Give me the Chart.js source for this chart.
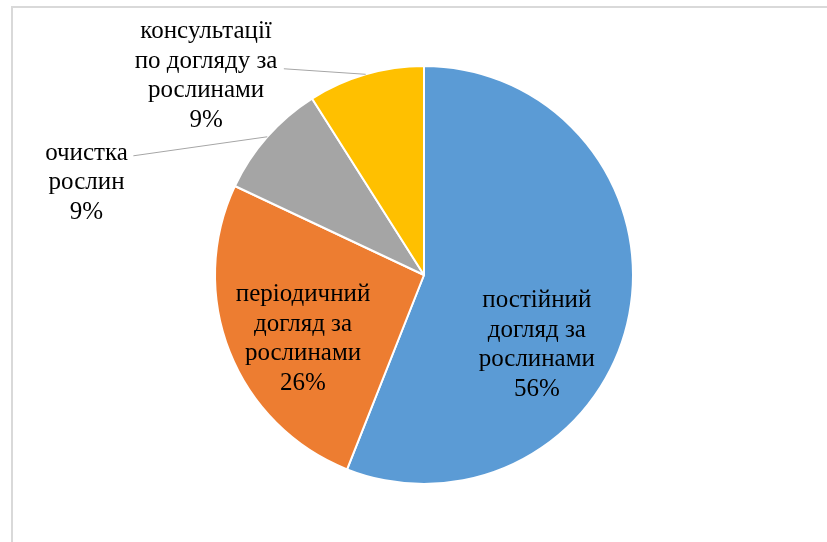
<!DOCTYPE html>
<html>
<head>
<meta charset="utf-8">
<script src="https://cdn.jsdelivr.net/npm/chart.js@4"></script>
<style>
  html, body { margin: 0; padding: 0; background: #fff; }
  #wrap { width: 827px; height: 542px; }
</style>
</head>
<body>
<div id="wrap"><canvas id="pie" width="827" height="542"></canvas></div>
<script>
// Categories and values
const categories = [
  ["постійний", "догляд за", "рослинами"],
  ["періодичний", "догляд за", "рослинами"],
  ["очистка", "рослин"],
  ["консультації", "по догляду за", "рослинами"]
];
const values = [56, 26, 9, 9];
const colors = ["#5b9bd5", "#ed7d31", "#a5a5a5", "#ffc000"];

// label placement in polar terms (angle clockwise from top, radius as fraction of pie radius)
const labelPlace = [
  { angle: 121.8, r: 0.635 },
  { angle: 242.1, r: 0.655 },
  { angle: 285.3, r: 1.674, lead: { angle: 292.3, r: 1.503 } },
  { angle: 312.4, r: 1.412, lead: { angle: 325.8, r: 1.193 } }
];

const polar = (arc, deg, f) => {
  const a = deg * Math.PI / 180;
  return { x: arc.x + Math.sin(a) * arc.outerRadius * f, y: arc.y - Math.cos(a) * arc.outerRadius * f };
};

const labelsPlugin = {
  id: "pieLabels",
  beforeDraw(chart) {
    const c = chart.ctx;
    c.save();
    c.strokeStyle = "#d9d9d9";
    c.lineWidth = 2;
    c.beginPath();
    c.moveTo(12, 560);
    c.lineTo(12, 7);
    c.lineTo(840, 7);
    c.stroke();
    c.restore();
  },
  afterDraw(chart) {
    const c = chart.ctx;
    const arcs = chart.getDatasetMeta(0).data;
    const total = values.reduce((s, v) => s + v, 0);
    c.save();
    c.font = "25px 'Liberation Serif', 'Times New Roman', serif";
    c.fillStyle = "#000";
    c.textAlign = "center";
    c.textBaseline = "middle";
    const lh = 29.5;
    arcs.forEach((arc, i) => {
      const p = labelPlace[i];
      const lines = categories[i].concat([Math.round(values[i] / total * 100) + "%"]);
      const pos = polar(arc, p.angle, p.r);
      const top = pos.y - (lines.length - 1) * lh / 2;
      lines.forEach((t, k) => c.fillText(t, pos.x, top + k * lh));
      if (p.lead) {
        const mid = (arc.startAngle + arc.endAngle) / 2;
        const s = polar(arc, p.lead.angle, p.lead.r);
        c.strokeStyle = "#a6a6a6";
        c.lineWidth = 1;
        c.beginPath();
        c.moveTo(s.x, s.y);
        c.lineTo(arc.x + Math.cos(mid) * arc.outerRadius, arc.y + Math.sin(mid) * arc.outerRadius);
        c.stroke();
      }
    });
    c.restore();
  }
};

new Chart(document.getElementById("pie"), {
  type: "pie",
  data: {
    labels: categories.map((l) => l.join(" ")),
    datasets: [{
      data: values,
      backgroundColor: colors,
      borderColor: "#ffffff",
      borderWidth: 2
    }]
  },
  options: {
    responsive: false,
    animation: false,
    layout: { padding: { left: 214, right: 193, top: 65, bottom: 57 } },
    plugins: { legend: { display: false }, tooltip: { enabled: false } }
  },
  plugins: [labelsPlugin]
});
</script>
</body>
</html>
